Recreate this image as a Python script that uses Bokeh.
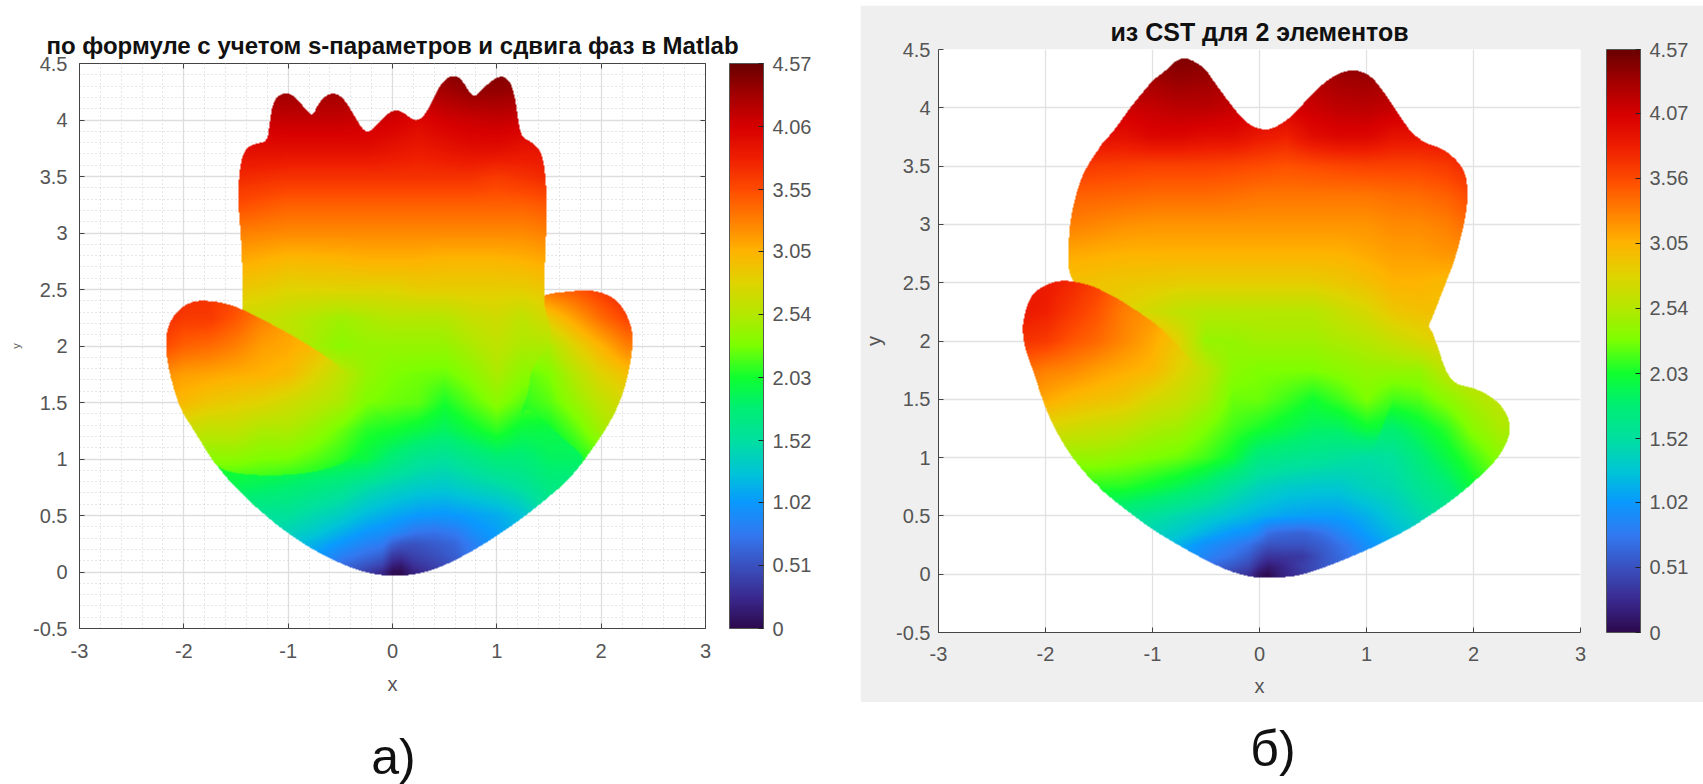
import numpy as np
from bokeh.embed import file_html
from bokeh.resources import INLINE
from bokeh.plotting import figure
from bokeh.layouts import row, column
from bokeh.models import (ColorBar, FixedTicker, Label, LinearAxis, LinearColorMapper, Range1d)

# ---------- colour scale ----------
CB_VALUES = [0, .25, .51, .75, 1.02, 1.25, 1.52, 1.8, 2.03, 2.3, 2.54, 2.8, 3.05, 3.3, 3.55, 3.8, 4.06, 4.3, 4.57]
CB_COLORS = ["#2e0a4e", "#3a2a90", "#3a52c0", "#3478f0", "#0a9aff", "#00c4d8", "#00e0a0", "#00f070", "#10ff30",
             "#80ff00", "#b4e800", "#e0d400", "#ffb400", "#ff8000", "#ff4c00", "#f02000", "#d80000", "#a80000", "#6a0000"]
TICKS_A = [0, .51, 1.02, 1.52, 2.03, 2.54, 3.05, 3.55, 4.06, 4.57]
TICKS_B = [0, .51, 1.02, 1.52, 2.03, 2.54, 3.05, 3.56, 4.07, 4.57]
X_TICKS = [-3, -2, -1, 0, 1, 2, 3]
Y_TICKS = [-.5, 0, .5, 1, 1.5, 2, 2.5, 3, 3.5, 4, 4.5]
TITLE_A = "по формуле с учетом s-параметров и сдвига фаз в Matlab"
TITLE_B = "из CST для 2 элементов"

# ---------- plot a): outlines (x, y) ----------
A_MAIN_X = [-1.44,-1.44,-1.46,-1.48,-1.47,-1.44,-1.39,-1.31,-1.20,-1.18,-1.15,-1.10,-1.04,-.97,-.89,-.81,-.76,-.72,-.65,-.57,-.49,-.41,-.33,-.27,-.21,-.13,-.03,.05,.13,.21,.29,.37,.45,.53,.61,.67,.74,.79,.88,.98,1.07,1.14,1.18,1.21,1.24,1.34,1.42,1.46,1.48,1.47,1.45,1.46,1.52,1.50,1.33,1.30,1.21,1.30,1.55,1.79,1.84,1.71,1.42,1.10,.78,.46,.24,0,-.24,-.49,-.81,-1.13,-1.45,-1.68,-1.83,-1.2,-1.44]
A_MAIN_Y = [2.34,2.75,3.05,3.29,3.52,3.68,3.76,3.79,3.81,3.95,4.14,4.21,4.24,4.23,4.16,4.07,4.04,4.13,4.21,4.24,4.21,4.11,3.98,3.90,3.90,3.98,4.07,4.09,4.05,3.99,4.02,4.14,4.30,4.38,4.39,4.35,4.24,4.20,4.29,4.37,4.39,4.32,4.17,3.96,3.85,3.80,3.73,3.58,3.29,2.90,2.52,2.31,2.18,1.99,1.81,1.58,1.37,1.47,1.25,1.06,.99,.84,.60,.38,.19,.04,-.02,-.04,-.01,.07,.22,.43,.69,.93,1.15,1.5,2.0]
A_LEFT_X = [-2.17,-2.12,-2.03,-1.90,-1.76,-1.61,-1.45,-1.26,-1.07,-.88,-.69,-.49,-.33,-.18,-.02,-.18,-.43,-.75,-1.13,-1.52,-1.68,-1.77,-1.90,-2.03,-2.12,-2.17]
A_LEFT_Y = [2.11,2.24,2.34,2.40,2.40,2.38,2.33,2.24,2.15,2.05,1.94,1.81,1.64,1.46,1.34,1.19,.97,.88,.85,.87,.93,1.05,1.25,1.43,1.69,1.93]
A_RIGHT_X = [1.45,1.68,1.87,2.06,2.19,2.28,2.31,2.27,2.19,2.06,1.84,1.71,1.5,1.1,1.2]
A_RIGHT_Y = [2.46,2.48,2.50,2.46,2.37,2.21,2.06,1.78,1.52,1.28,.99,.84,.66,1.3,2.3]
A_DOME_X = [1.27,1.10,.78,.46,.24,0,-.24,-.49,-.81,-1.13,-1.21]
A_DOME_Y = [.5,.38,.19,.04,-.02,-.04,-.01,.07,.22,.43,.5]

# ---------- plot a): values read from the colours ----------
A_MAIN_COLS = [-1.5,-1,-.5,-.25,0,.25,.5,.75,1,1.25,1.5]
A_MAIN_ROWS = [0,.1,.25,.5,.75,1,1.25,1.5,1.75,2,2.25,2.5,2.75,3,3.25,3.5,3.75,4,4.25,4.5]
A_MAIN_VALS = [
 [1.0,1.0,.6,.3,.03,.2,.4,.6,.9,1.2,1.5],
 [1.2,1.1,.75,.5,.25,.3,.45,.65,.9,1.2,1.5],
 [1.35,1.3,.95,.85,.65,.55,.65,.8,1.0,1.25,1.55],
 [1.6,1.55,1.35,1.2,1.1,1.02,1.0,1.05,1.12,1.25,1.55],
 [1.9,1.8,1.65,1.5,1.4,1.33,1.3,1.38,1.45,1.55,1.7],
 [2.1,2.05,2.0,1.95,1.75,1.6,1.55,1.65,1.75,1.75,1.85],
 [2.3,2.3,2.25,2.08,2.03,1.95,1.85,1.98,2.1,1.95,1.95],
 [2.7,2.6,2.5,2.3,2.25,2.22,2.05,2.2,2.35,2.2,2.15],
 [2.9,2.8,2.6,2.4,2.3,2.27,2.25,2.35,2.5,2.35,2.35],
 [3.0,2.6,2.35,2.4,2.4,2.4,2.4,2.5,2.6,2.5,2.5],
 [2.7,2.6,2.45,2.5,2.55,2.55,2.55,2.65,2.7,2.6,2.75],
 [2.9,2.8,2.8,2.8,2.8,2.85,2.85,2.85,2.85,2.85,2.9],
 [3.1,3.0,3.02,3.05,3.05,3.05,3.02,3.02,3.02,3.05,3.1],
 [3.3,3.25,3.25,3.25,3.25,3.25,3.25,3.25,3.25,3.25,3.3],
 [3.55,3.45,3.45,3.45,3.45,3.45,3.45,3.45,3.45,3.45,3.5],
 [3.75,3.7,3.7,3.7,3.7,3.7,3.7,3.7,3.65,3.7,3.75],
 [3.95,3.95,3.95,3.95,3.9,3.85,3.9,3.95,3.95,3.9,3.9],
 [4.1,4.15,4.15,4.12,4.08,4.0,4.08,4.12,4.15,4.12,4.1],
 [4.3,4.35,4.32,4.25,4.25,4.25,4.3,4.38,4.38,4.35,4.3],
 [4.5,4.5,4.5,4.5,4.5,4.5,4.5,4.5,4.5,4.5,4.5],
]
A_LEFT_COLS = [-2.25,-2,-1.75,-1.5,-1.25,-1,-.75,-.5,-.25,0]
A_LEFT_ROWS = [.75,1,1.25,1.5,1.75,2,2.25,2.5]
A_LEFT_VALS = [
 [2.05,2.05,2.05,2.05,2.05,2.0,1.95,1.85,1.75,1.6],
 [2.35,2.35,2.35,2.35,2.3,2.28,2.2,2.1,1.95,1.8],
 [2.7,2.65,2.6,2.6,2.5,2.5,2.4,2.25,2.08,2.03],
 [3.05,3.0,2.9,2.85,2.8,2.7,2.6,2.5,2.3,2.2],
 [3.25,3.15,3.12,3.08,3.05,3.0,2.8,2.6,2.4,2.3],
 [3.6,3.45,3.4,3.3,3.15,3.1,3.0,2.75,2.5,2.35],
 [3.75,3.65,3.65,3.5,3.3,3.15,3.05,2.8,2.6,2.4],
 [3.8,3.75,3.7,3.6,3.4,3.2,3.1,2.9,2.7,2.5],
]
A_RIGHT_COLS = [1.25,1.5,1.75,2,2.25]
A_RIGHT_ROWS = [1,1.25,1.5,1.75,2,2.25,2.5]
A_RIGHT_VALS = [
 [1.8,1.85,2.0,2.2,2.4],
 [1.95,2.0,2.2,2.45,2.65],
 [2.1,2.2,2.4,2.6,2.75],
 [2.2,2.3,2.55,2.8,2.95],
 [2.45,2.5,2.8,3.05,3.3],
 [2.8,2.9,3.15,3.4,3.6],
 [3.3,3.4,3.5,3.65,3.8],
]
A_DOME_COLS = [-1.25,-1,-.75,-.5,-.25,-.1,0,.08,.2,.4,.6,.8,1,1.25]
A_DOME_ROWS = [0,.07,.15,.25,.35,.5]
A_DOME_VALS = [
 [1.2,1.1,.95,.65,.4,.25,.03,.02,.2,.35,.5,.7,.9,1.1],
 [1.25,1.15,1.0,.7,.55,.45,.2,.15,.32,.42,.55,.72,.92,1.12],
 [1.3,1.2,1.05,.85,.7,.62,.38,.35,.42,.5,.6,.8,.95,1.15],
 [1.4,1.3,1.15,1.0,.85,.8,.62,.55,.52,.58,.65,.85,1.0,1.2],
 [1.5,1.4,1.3,1.15,1.0,.95,.9,.85,.75,.72,.78,.95,1.05,1.22],
 [1.57,1.55,1.45,1.35,1.2,1.14,1.1,1.075,1.03,1.0,1.02,1.08,1.12,1.25],
]

# ---------- plot б): outlines ----------
B_MAIN_X = [-1.78,-1.79,-1.78,-1.74,-1.68,-1.59,-1.48,-1.35,-1.23,-1.10,-.98,-.87,-.79,-.70,-.61,-.51,-.42,-.31,-.20,-.09,0,.09,.20,.33,.45,.57,.70,.82,.93,1.04,1.13,1.23,1.32,1.43,1.57,1.72,1.85,1.93,1.95,1.94,1.89,1.82,1.72,1.60,1.44,1.32,1.20,1.10,.98,.85,.73,.57,.39,.08,-.17,-.42,-.73,-1.01,-1.30,-1.51,-1.69,-1.82,-1.2,-1.4]
B_MAIN_Y = [2.51,2.75,2.98,3.18,3.38,3.54,3.68,3.81,3.97,4.12,4.25,4.32,4.40,4.43,4.40,4.34,4.22,4.08,3.95,3.85,3.82,3.81,3.86,3.95,4.08,4.19,4.28,4.32,4.32,4.27,4.17,4.04,3.91,3.77,3.69,3.65,3.55,3.44,3.29,3.12,2.90,2.67,2.44,2.15,1.86,1.60,1.40,1.15,.89,.66,.40,.15,-.01,-.04,-.01,.08,.235,.39,.59,.75,.92,1.12,1.5,2.2]
B_LEFT_X = [-2.22,-2.20,-2.14,-2.03,-1.88,-1.72,-1.53,-1.35,-1.16,-.97,-.82,-.66,-.5,-.38,-.23,-.48,-.79,-1.16,-1.35,-1.54,-1.69,-1.82,-1.94,-2.03,-2.12,-2.19]
B_LEFT_Y = [2.09,2.23,2.39,2.47,2.52,2.51,2.46,2.38,2.27,2.15,2.02,1.86,1.69,1.49,1.32,.99,.88,.80,.80,.86,.92,1.09,1.29,1.49,1.75,1.92]
B_RIGHT_X = [1.3,1.60,1.67,1.74,1.83,2.0,2.16,2.28,2.35,2.33,2.22,2.03,1.88,1.63,1.32,1.01,.70,.39,.2,.3,.8]
B_RIGHT_Y = [2.4,2.13,1.95,1.75,1.63,1.60,1.53,1.43,1.29,1.15,.98,.81,.69,.52,.35,.21,.09,-.01,-.03,.5,1.5]
B_DOME_X = [1.59,1.32,1.01,.70,.39,.08,-.17,-.42,-.73,-1.01,-1.17]
B_DOME_Y = [.5,.35,.21,.09,-.01,-.04,-.01,.08,.235,.39,.5]

# ---------- plot б): values ----------
B_MAIN_COLS = [-1.75,-1.25,-1,-.75,-.5,-.25,0,.25,.5,.75,1,1.25,1.5,1.75,1.95]
B_MAIN_ROWS = [0,.1,.25,.5,.75,1,1.25,1.5,1.75,2,2.25,2.5,2.75,3,3.25,3.5,3.75,4,4.25,4.5]
B_MAIN_VALS = [
 [1.0,1.0,1.0,.8,.55,.3,.03,.25,.4,.6,.8,1,1.2,1.4,1.5],
 [1.2,1.2,1.1,.95,.75,.5,.2,.3,.45,.65,.85,1,1.2,1.4,1.5],
 [1.4,1.35,1.25,1.1,.9,.85,.75,.6,.65,.75,1.0,1.1,1.2,1.4,1.5],
 [1.75,1.65,1.55,1.45,1.35,1.25,1.15,1.08,1.05,1.05,1.15,1.3,1.45,1.55,1.7],
 [2.1,2.08,2.0,1.9,1.75,1.55,1.4,1.33,1.3,1.3,1.4,1.45,1.6,1.75,2.0],
 [2.4,2.35,2.3,2.25,2.15,2.0,1.7,1.65,1.6,1.55,1.5,1.55,1.75,1.95,2.15],
 [2.7,2.6,2.5,2.45,2.3,2.15,2.05,1.95,1.85,1.85,2.0,1.95,1.95,2.1,2.35],
 [2.95,2.9,2.75,2.65,2.5,2.25,2.25,2.15,2.03,2.15,2.3,2.15,2.2,2.35,2.5],
 [3.25,3.08,3.02,2.8,2.6,2.35,2.3,2.3,2.3,2.35,2.4,2.4,2.4,2.6,2.7],
 [3.5,3.25,3.1,2.8,2.4,2.4,2.45,2.45,2.45,2.5,2.55,2.65,2.75,2.85,2.9],
 [3.0,2.8,2.7,2.6,2.55,2.55,2.55,2.55,2.55,2.65,2.75,2.9,2.95,2.95,2.95],
 [2.95,2.9,2.88,2.85,2.85,2.85,2.85,2.85,2.85,2.9,2.95,3.05,3.05,3.0,3.0],
 [3.1,3.05,3.05,3.05,3.05,3.05,3.05,3.05,3.05,3.05,3.1,3.15,3.15,3.2,3.2],
 [3.3,3.22,3.2,3.2,3.2,3.2,3.2,3.2,3.2,3.2,3.2,3.25,3.25,3.3,3.4],
 [3.45,3.42,3.4,3.4,3.4,3.38,3.35,3.35,3.35,3.35,3.35,3.38,3.4,3.45,3.55],
 [3.65,3.62,3.6,3.6,3.6,3.58,3.55,3.52,3.55,3.58,3.6,3.6,3.6,3.65,3.75],
 [3.95,3.92,4.0,4.0,3.95,3.95,3.85,3.8,3.95,4.0,4.0,3.9,3.9,3.9,3.9],
 [4.1,4.12,4.15,4.2,4.2,4.15,4.08,4.05,4.12,4.18,4.2,4.15,4.1,4.05,4.0],
 [4.3,4.3,4.32,4.38,4.35,4.28,4.2,4.2,4.25,4.32,4.35,4.3,4.25,4.25,4.25],
 [4.5,4.5,4.5,4.5,4.5,4.5,4.5,4.5,4.5,4.5,4.5,4.5,4.5,4.5,4.5],
]
B_LEFT_COLS = [-2.25,-2,-1.75,-1.5,-1.25,-1,-.75,-.5,-.25,0]
B_LEFT_ROWS = [.75,1,1.25,1.5,1.75,2,2.25,2.5]
B_LEFT_VALS = [
 [2.1,2.1,2.1,2.08,2.08,2.0,1.9,1.75,1.55,1.4],
 [2.45,2.42,2.4,2.4,2.35,2.3,2.25,2.15,2.0,1.8],
 [2.8,2.75,2.7,2.65,2.6,2.5,2.45,2.3,2.15,2.05],
 [3.2,3.1,3.0,2.95,2.9,2.75,2.65,2.5,2.25,2.2],
 [3.4,3.3,3.25,3.15,3.08,3.02,2.8,2.6,2.35,2.3],
 [3.7,3.65,3.5,3.4,3.25,3.1,2.9,2.7,2.45,2.4],
 [3.85,3.8,3.65,3.5,3.3,3.2,3.0,2.8,2.6,2.5],
 [3.9,3.85,3.75,3.6,3.4,3.25,3.1,2.9,2.7,2.6],
]
B_RIGHT_COLS = [.5,.75,1,1.25,1.5,1.75,2,2.25]
B_RIGHT_ROWS = [0,.25,.5,.75,1,1.25,1.5,1.75,2,2.25]
B_RIGHT_VALS = [
 [.3,.5,.8,.9,1.0,1.1,1.2,1.3],
 [.7,.85,1.0,1.1,1.2,1.3,1.4,1.5],
 [1.05,1.05,1.15,1.3,1.45,1.55,1.7,1.9],
 [1.3,1.3,1.4,1.45,1.6,1.75,2.0,2.2],
 [1.6,1.55,1.5,1.55,1.75,1.95,2.15,2.35],
 [1.85,1.85,1.85,1.8,1.95,2.1,2.35,2.5],
 [2.05,2.1,2.15,2.15,2.2,2.35,2.5,2.6],
 [2.3,2.3,2.4,2.4,2.4,2.6,2.7,2.7],
 [2.6,2.6,2.65,2.7,2.75,2.85,2.9,2.9],
 [2.9,2.9,2.9,2.9,2.95,3.0,3.0,3.0],
]
B_DOME_COLS = [-1.25,-1,-.75,-.5,-.25,-.1,0,.08,.2,.4,.6,.8,1,1.25,1.6]
B_DOME_ROWS = [0,.07,.15,.25,.35,.5]
B_DOME_VALS = [
 [1.2,1.1,.95,.65,.4,.3,.08,.02,.18,.35,.5,.65,.85,1.05,1.25],
 [1.25,1.15,1.0,.7,.55,.45,.25,.15,.22,.4,.55,.7,.9,1.1,1.25],
 [1.3,1.2,1.05,.85,.7,.58,.42,.32,.33,.35,.55,.7,.9,1.1,1.3],
 [1.4,1.3,1.15,.95,.82,.72,.6,.52,.52,.52,.6,.75,.95,1.12,1.32],
 [1.5,1.4,1.3,1.15,1.0,.95,.85,.7,.65,.62,.72,.9,1.05,1.2,1.38],
 [1.6,1.55,1.45,1.35,1.25,1.19,1.15,1.12,1.09,1.06,1.05,1.07,1.15,1.3,1.5],
]


def build_palette():
    rgb = np.array([[int(c[i:i + 2], 16) for i in (1, 3, 5)] for c in CB_COLORS], float)
    t = np.linspace(0, 4.57, 512)
    ch = [np.interp(t, CB_VALUES, rgb[:, k]) for k in range(3)]
    return ["#%02x%02x%02x" % (int(a), int(b), int(c)) for a, b, c in zip(*ch)]


mapper = LinearColorMapper(palette=build_palette(), low=0, high=4.57, nan_color="#00000000")


def rounded(px, py, times=2):
    # rounds the corners of an outline when it is drawn, as the smooth shapes of the reference have
    px, py = np.asarray(px, float), np.asarray(py, float)
    for _ in range(times):
        nx, ny = np.roll(px, -1), np.roll(py, -1)
        px, py = (np.column_stack([.75 * px + .25 * nx, .25 * px + .75 * nx]).ravel(),
                  np.column_stack([.75 * py + .25 * ny, .25 * py + .75 * ny]).ravel())
    return px, py


def inside(gx, gy, px, py):
    px, py = rounded(px, py)
    res = np.zeros(gx.shape, bool)
    for i in range(len(px)):
        x0, y0, x1, y1 = px[i], py[i], px[i - 1], py[i - 1]
        if y0 == y1:
            continue
        cond = (y0 > gy) != (y1 > gy)
        res ^= cond & (gx < (x1 - x0) * (gy - y0) / (y1 - y0) + x0)
    return res


def lookup(xc, yc, cols, rows, vals):
    vals = np.asarray(vals, float)
    by_y = np.stack([np.interp(yc, rows, vals[:, j]) for j in range(vals.shape[1])], axis=1)
    return np.stack([np.interp(xc, cols, r) for r in by_y], axis=0)


def field(nx, ny, layers):
    xc = -3 + (np.arange(nx) + .5) * 6 / nx
    yc = -.5 + (np.arange(ny) + .5) * 5 / ny
    gx, gy = np.meshgrid(xc, yc)
    out = np.full(gx.shape, np.nan)
    for px, py, cols, rows, vals in layers:
        m = inside(gx, gy, px, py)
        out[m] = lookup(xc, yc, cols, rows, vals)[m]
    return out


def make_plot(title, width, height, left, right, top, bottom, layers, nx, ny, cb_ticks, cb_gap, fill,
              standoff, boxed, ylabel_size, grid_color, title_size, tick_standoff, xlabel_standoff):
    p = figure(width=width, height=height, x_range=Range1d(-3, 3), y_range=Range1d(-.5, 4.5),
               output_backend="svg", toolbar_location=None, title=title,
               min_border_left=left, min_border_right=right, min_border_top=top, min_border_bottom=bottom,
               x_axis_label="x", y_axis_label="y")
    p.border_fill_color = fill
    p.background_fill_color = "#ffffff"
    p.title.align = "center"
    p.title.text_font = "Liberation Sans"
    p.title.text_font_style = "bold"
    p.title.text_font_size = title_size
    p.title.text_color = "#111111"
    p.title.standoff = standoff
    p.outline_line_color = "#444444" if boxed else None

    minor_x = [round(-3 + .2 * i, 1) for i in range(31)] if boxed else []
    minor_y = [round(-.5 + .1 * i, 1) for i in range(51)] if boxed else []
    xt = FixedTicker(ticks=X_TICKS, minor_ticks=minor_x)
    yt = FixedTicker(ticks=Y_TICKS, minor_ticks=minor_y)
    p.xaxis.ticker = xt
    p.yaxis.ticker = yt
    p.xaxis.major_label_overrides = {t: str(t) for t in X_TICKS}
    p.yaxis.major_label_overrides = {t: ("%g" % t) for t in Y_TICKS}
    for ax in (p.xaxis[0], p.yaxis[0]):
        ax.major_tick_in = 5
        ax.major_tick_out = 0
        ax.minor_tick_line_color = None
        ax.axis_line_color = "#444444"
        ax.major_tick_line_color = "#444444"
        ax.major_label_text_font = "Liberation Sans"
        ax.major_label_text_font_size = "20px"
        ax.major_label_text_color = "#555555"
        ax.axis_label_text_font = "Liberation Sans"
        ax.axis_label_text_font_style = "normal"
        ax.axis_label_text_color = "#555555"
    p.xaxis.major_label_standoff = tick_standoff
    p.yaxis.major_label_standoff = 8
    p.xaxis.axis_label_text_font_size = "20px"
    p.xaxis.axis_label_standoff = xlabel_standoff
    p.yaxis.axis_label_text_font_size = ylabel_size
    p.yaxis.axis_label_standoff = 8

    for g in (p.xgrid[0], p.ygrid[0]):
        g.grid_line_color = grid_color
        g.grid_line_width = 1.3
    p.xgrid.ticker = xt
    p.ygrid.ticker = yt
    if boxed:
        for g in (p.xgrid[0], p.ygrid[0]):
            g.minor_grid_line_color = "#cccccc"
            g.minor_grid_line_dash = "1 3"
        for side, tk in (("above", xt), ("right", yt)):
            extra = LinearAxis(ticker=FixedTicker(ticks=tk.ticks), major_tick_in=5, major_tick_out=0,
                               minor_tick_line_color=None, axis_line_color=None,
                               major_tick_line_color="#444444", major_label_text_font_size="1px",
                               major_label_text_color=None, major_label_standoff=0)
            p.add_layout(extra, side)

    p.image(image=[field(nx, ny, layers)], x=-3, y=-.5, dw=6, dh=5, color_mapper=mapper)

    cb = ColorBar(color_mapper=mapper, width=34, margin=0, padding=0, location=(cb_gap, 0),
                  ticker=FixedTicker(ticks=cb_ticks),
                  major_label_overrides={t: ("%g" % t) for t in cb_ticks},
                  major_label_text_font="Liberation Sans", major_label_text_font_size="20px",
                  major_label_text_color="#555555", label_standoff=9,
                  major_tick_line_color="#222222", major_tick_in=5, minor_tick_line_color=None,
                  bar_line_color="#555555", border_line_color=None, background_fill_color=None)
    p.add_layout(cb, "right")
    return p


A_LAYERS = [(A_RIGHT_X, A_RIGHT_Y, A_RIGHT_COLS, A_RIGHT_ROWS, A_RIGHT_VALS),
            (A_MAIN_X, A_MAIN_Y, A_MAIN_COLS, A_MAIN_ROWS, A_MAIN_VALS),
            (A_LEFT_X, A_LEFT_Y, A_LEFT_COLS, A_LEFT_ROWS, A_LEFT_VALS),
            (A_DOME_X, A_DOME_Y, A_DOME_COLS, A_DOME_ROWS, A_DOME_VALS)]
B_LAYERS = [(B_RIGHT_X, B_RIGHT_Y, B_RIGHT_COLS, B_RIGHT_ROWS, B_RIGHT_VALS),
            (B_MAIN_X, B_MAIN_Y, B_MAIN_COLS, B_MAIN_ROWS, B_MAIN_VALS),
            (B_LEFT_X, B_LEFT_Y, B_LEFT_COLS, B_LEFT_ROWS, B_LEFT_VALS),
            (B_DOME_X, B_DOME_Y, B_DOME_COLS, B_DOME_ROWS, B_DOME_VALS)]

p1 = make_plot(TITLE_A, 860, 679, 79, 155, 44, 70, A_LAYERS, 626, 565, TICKS_A, 24, "#ffffff", 10, True, "11px",
               "#dedede", "24px", 11, 12)
p2 = make_plot(TITLE_B, 843, 697, 76, 123, 44, 70, B_LAYERS, 644, 583, TICKS_B, 26, "#efefef", 8, False, "20px",
               "#e2e2e2", "25px", 14, 11)
p1.margin = (19, 0, 4, 0)
p2.margin = (5, 0, 0, 0)

strip = figure(width=1703, height=82, x_range=Range1d(0, 1703), y_range=Range1d(0, 82),
               output_backend="svg", toolbar_location=None, min_border=0)
strip.axis.visible = False
strip.grid.visible = False
strip.outline_line_color = None
strip.add_layout(Label(x=393, y=0, text="а)", text_font="Liberation Sans", text_font_size="50px",
                       text_align="center", text_color="#111111"))
strip.add_layout(Label(x=1272.5, y=8, text="б)", text_font="Liberation Sans", text_font_size="50px",
                       text_align="center", text_color="#111111"))

page = column(row(p1, p2, spacing=0), strip, spacing=0)
open("out.html", "w").write(file_html(page, INLINE))
